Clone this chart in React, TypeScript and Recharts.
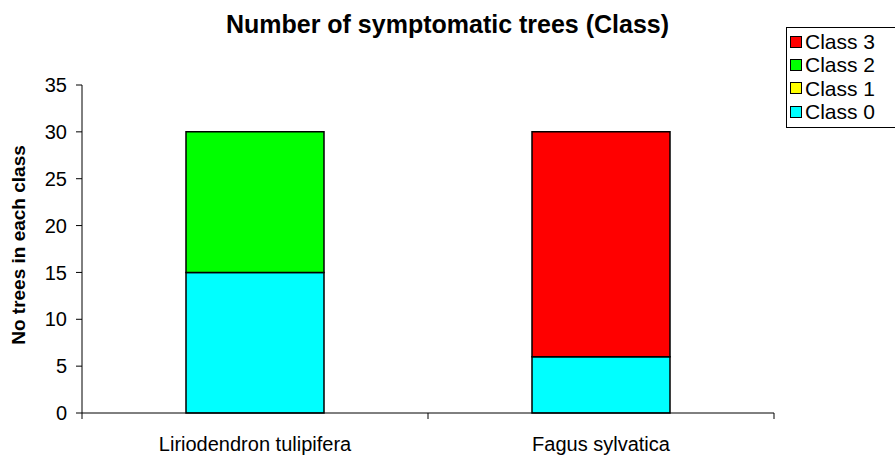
import React from 'react'
import { BarChart, Bar, XAxis, YAxis } from 'recharts'

const categories = ['Liriodendron tulipifera', 'Fagus sylvatica']
const class0 = [15, 6]
const class1 = [0, 0]
const class2 = [15, 0]
const class3 = [0, 24]
const yTicks = [0, 5, 10, 15, 20, 25, 30, 35]

const series = [
  { key: 'class0', name: 'Class 0', color: '#00FFFF' },
  { key: 'class1', name: 'Class 1', color: '#FFFF00' },
  { key: 'class2', name: 'Class 2', color: '#00FF00' },
  { key: 'class3', name: 'Class 3', color: '#FF0000' },
]

const data = categories.map((name, i) => ({
  name,
  class0: class0[i],
  class1: class1[i],
  class2: class2[i],
  class3: class3[i],
}))

const FONT = '"Liberation Sans", Arial, sans-serif'

function LegendBox() {
  // top class listed first
  const items = [...series].reverse()
  return (
    <div
      style={{
        position: 'absolute',
        left: 786,
        top: 27,
        width: 130,
        border: '1px solid #000',
        background: '#fff',
        padding: '2px 0 4px 3px',
        fontFamily: FONT,
        fontSize: 21,
        lineHeight: '23px',
        color: '#000',
        boxSizing: 'border-box',
      }}
    >
      {items.map((s) => (
        <div key={s.key} style={{ display: 'flex', alignItems: 'center', height: 23.3 }}>
          <span
            style={{
              width: 10,
              height: 10,
              background: s.color,
              border: '1.5px solid #000',
              marginRight: 3,
              display: 'inline-block',
            }}
          />
          <span>{s.name}</span>
        </div>
      ))}
    </div>
  )
}

function YLabel({ viewBox }: any) {
  const cy = viewBox.y + viewBox.height / 2 - 4
  return (
    <text
      x={18}
      y={cy}
      transform={`rotate(-90, 18, ${cy})`}
      textAnchor="middle"
      dominantBaseline="central"
      style={{ fontSize: 19, fontWeight: 'bold', fill: '#000', fontFamily: FONT }}
    >
      No trees in each class
    </text>
  )
}

// category label centred in its band, with tick marks on the band edges
function CategoryTick(props: any) {
  const { x, y, payload, index, visibleTicksCount } = props
  const half = payload.offset ?? 0
  const axisY = y - 24
  const last = index === visibleTicksCount - 1
  return (
    <g>
      <line x1={x - half} x2={x - half} y1={axisY} y2={axisY + 6} stroke="#000" />
      {last && <line x1={x + half} x2={x + half} y1={axisY} y2={axisY + 6} stroke="#000" />}
      <text x={x} y={y} dy="0.71em" textAnchor="middle" style={{ fontSize: 20, fill: '#000', fontFamily: FONT }}>
        {payload.value}
      </text>
    </g>
  )
}

export default function App() {
  if (typeof document !== 'undefined') document.body.style.margin = '0'
  return (
    <div style={{ position: 'relative', width: 895, height: 460, overflow: 'hidden', background: '#fff' }}>
      <div
        style={{
          position: 'absolute',
          top: 10,
          left: 0,
          width: 895,
          textAlign: 'center',
          fontFamily: FONT,
          fontWeight: 'bold',
          fontSize: 25,
          color: '#000',
        }}
      >
        Number of symptomatic trees (Class)
      </div>
      <BarChart
        width={895}
        height={460}
        data={data}
        margin={{ top: 85, right: 121, left: 0, bottom: 0 }}
        barSize={138}
      >
        <XAxis
          dataKey="name"
          height={47}
          axisLine={{ stroke: '#000', strokeWidth: 1 }}
          tickLine={false}
          tickSize={0}
          tickMargin={24}
          interval={0}
          tick={<CategoryTick />}
        />
        <YAxis
          width={82}
          domain={[0, 35]}
          ticks={yTicks}
          interval={0}
          axisLine={{ stroke: '#000' }}
          tickLine={{ stroke: '#000' }}
          tickSize={6}
          tickMargin={9}
          tick={{ fontSize: 20, fill: '#000', fontFamily: FONT }}
          label={<YLabel />}
        />
        {series.map((s) => (
          <Bar
            key={s.key}
            dataKey={s.key}
            name={s.name}
            stackId="a"
            fill={s.color}
            stroke="#000"
            strokeWidth={1.5}
            isAnimationActive={false}
          />
        ))}
      </BarChart>
      <LegendBox />
    </div>
  )
}
